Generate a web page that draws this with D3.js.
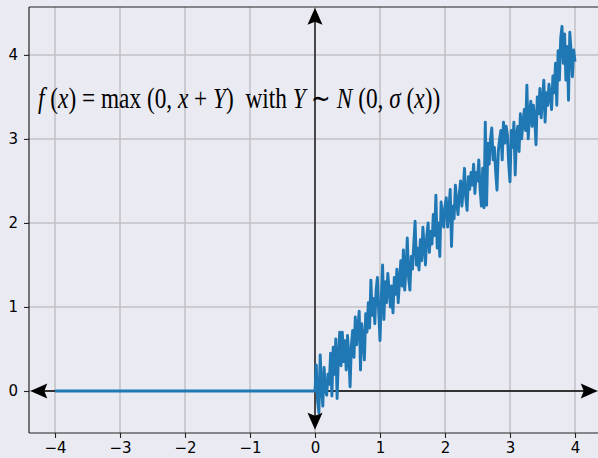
<!DOCTYPE html>
<html lang="en">
<head>
<meta charset="utf-8">
<script src="https://cdn.jsdelivr.net/npm/d3@7"></script>
<style>
  body{margin:0;background:#eaeaf2;}
  svg{display:block;}
</style>
</head>
<body>
<svg></svg>
<script>
  var xTicks = [-4, -3, -2, -1, 0, 1, 2, 3, 4];
  var yTicks = [0, 1, 2, 3, 4];

  // flat part, x <= 0
  var flatX = [-4, 0];
  var flatY = [0, 0];

  // noisy part, x = 0.02 .. 4.00 in steps of 0.02
  var noisyStart = 0.02, noisyStep = 0.02;
  var noisyY = [
    0.31, -0.12, -0.26, 0.43, 0.05, -0.18, 0.28, 0.02, -0.05, 0.20,
    0.08, 0.45, -0.06, 0.52, 0.20, 0.62, -0.09, 0.40, 0.70, 0.30,
    0.70, 0.35, 0.60, 0.25, 0.66, 0.42, 0.05, 0.55, 0.72, 0.40,
    0.88, 0.55, 0.75, 0.95, 0.25, 0.80, 0.60, 0.37, 0.92, 0.70,
    1.05, 0.75, 1.32, 0.90, 1.10, 0.80, 1.20, 1.35, 0.95, 0.60,
    1.10, 1.50, 0.85, 1.30, 1.05, 1.40, 1.20, 1.00, 1.25, 0.93,
    1.35, 1.15, 1.45, 1.05, 1.30, 1.55, 1.25, 1.68, 1.20, 1.45,
    1.82, 1.35, 1.20, 1.60, 1.45, 1.75, 2.02, 1.50, 1.70, 1.44,
    1.80, 1.55, 1.95, 1.70, 1.50, 1.85, 2.00, 1.65, 1.90, 1.75,
    2.10, 1.85, 2.33, 1.70, 2.00, 1.60, 2.25, 2.10, 1.95, 2.20,
    2.30, 1.95, 2.15, 2.40, 1.72, 2.20, 2.05, 2.45, 2.25, 2.10,
    2.35, 2.50, 2.20, 2.40, 2.65, 2.30, 2.15, 2.55, 2.40, 2.60,
    2.45, 2.70, 2.35, 2.60, 2.50, 2.75, 2.40, 2.20, 2.65, 2.18,
    3.20, 2.21, 2.95, 2.70, 3.00, 3.13, 2.75, 2.90, 2.60, 2.39,
    2.85, 3.00, 3.10, 2.75, 3.20, 2.95, 3.15, 3.05, 2.70, 2.49,
    3.10, 2.90, 3.20, 2.57, 3.05, 3.15, 2.85, 3.30, 3.00, 3.20,
    3.35, 3.10, 3.64, 3.00, 3.30, 3.45, 3.15, 3.40, 3.25, 2.93,
    3.50, 3.30, 3.60, 3.25, 3.45, 3.70, 3.20, 3.55, 3.40, 3.65,
    3.50, 3.35, 3.75, 3.55, 3.90, 3.40, 4.05, 3.70, 4.20, 4.34,
    3.90, 4.25, 3.70, 4.10, 3.46, 4.27, 4.04, 3.74, 4.06, 3.92
  ];

  var svgwidth = 598, svgheight = 458;
  var margins = {top: 7, bottom: 25, left: 29, right: -3};

  var svg = d3.select('svg')
              .attr('width', svgwidth)
              .attr('height', svgheight);

  var x = d3.scaleLinear().domain([-4.4, 4.4])
            .range([margins.left, svgwidth - margins.right]);
  var y = d3.scaleLinear().domain([-0.5, 4.57])
            .range([svgheight - margins.bottom, margins.top]);

  var x0 = x.range()[0], x1 = x.range()[1];
  var y0 = y.range()[0], y1 = y.range()[1];

  svg.append('rect')
     .attr('x', x0).attr('y', y1)
     .attr('width', x1 - x0).attr('height', y0 - y1)
     .attr('fill', '#eaeaf2');

  // grid
  var grid = svg.append('g').attr('stroke', '#c0c0c4').attr('stroke-width', 1.5);
  grid.selectAll('.gx').data(xTicks).enter().append('line')
      .attr('x1', d => x(d)).attr('x2', d => x(d))
      .attr('y1', y0).attr('y2', y1);
  grid.selectAll('.gy').data(yTicks).enter().append('line')
      .attr('x1', x0).attr('x2', x1)
      .attr('y1', d => y(d)).attr('y2', d => y(d));

  // axes
  var fmt = d => (d < 0 ? '\u2212' + Math.abs(d) : '' + d);
  var xAxis = svg.append('g')
     .attr('transform', 'translate(0,' + y0 + ')')
     .call(d3.axisBottom(x).tickValues(xTicks).tickFormat(fmt).tickSizeOuter(0).tickSize(5).tickPadding(4));
  var yAxis = svg.append('g')
     .attr('transform', 'translate(' + x0 + ',0)')
     .call(d3.axisLeft(y).tickValues(yTicks).tickFormat(fmt).tickSizeOuter(0).tickSize(5).tickPadding(6));
  [xAxis, yAxis].forEach(function(a){
    a.attr('font-size', 15).attr('font-family', 'DejaVu Sans');
    a.selectAll('text').attr('fill', '#000');
    a.selectAll('line').attr('stroke', '#222').attr('stroke-width', 1.1);
    a.select('.domain').remove();
  });

  // spines (left, top, bottom)
  var spines = svg.append('g').attr('stroke', '#222').attr('stroke-width', 1.2).attr('fill', 'none');
  spines.append('line').attr('x1', x0).attr('x2', x0).attr('y1', y1).attr('y2', y0);
  spines.append('line').attr('x1', x0).attr('x2', x1).attr('y1', y1).attr('y2', y1);
  spines.append('line').attr('x1', x0).attr('x2', x1).attr('y1', y0).attr('y2', y0);

  // double arrows along the axes
  var arrows = svg.append('g');
  function arrowHead(tx, ty, ang){
    var L = 17, W = 7.5, N = 3;
    var p = [[0, 0], [-L, -W], [-L + N, 0], [-L, W]];
    arrows.append('path')
      .attr('d', 'M' + p.map(q => q.join(',')).join('L') + 'Z')
      .attr('transform', 'translate(' + tx + ',' + ty + ') rotate(' + ang + ')')
      .attr('fill', '#000');
  }
  var hx0 = x(-4.38), hx1 = x(4.35), vy0 = y(-0.46), vy1 = y(4.56);
  arrows.append('line').attr('x1', hx0 + 8).attr('x2', hx1 - 8)
        .attr('y1', y(0)).attr('y2', y(0)).attr('stroke', '#000').attr('stroke-width', 1.3);
  arrows.append('line').attr('x1', x(0)).attr('x2', x(0))
        .attr('y1', vy1 + 8).attr('y2', vy0 - 8).attr('stroke', '#000').attr('stroke-width', 1.3);
  arrowHead(hx0, y(0), 180);
  arrowHead(hx1, y(0), 0);
  arrowHead(x(0), vy1, -90);
  arrowHead(x(0), vy0, 90);

  // function line
  var pts = flatX.map((d, i) => [d, flatY[i]]);
  noisyY.forEach(function(v, i){ pts.push([noisyStart + i * noisyStep, v]); });
  var line = d3.line().x(d => x(d[0])).y(d => y(d[1]));
  svg.append('path').datum(pts)
     .attr('d', line)
     .attr('fill', 'none')
     .attr('stroke', '#1f77b4')
     .attr('stroke-width', 2.9)
     .attr('stroke-linejoin', 'round');

  // formula, sized to span the same width as in the picture
  var parts = [
    ['f', 1], [' (', 0], ['x', 1], [') = max (0, ', 0], ['x', 1], [' + ', 0], ['Y', 1],
    [')  with ', 0], ['Y', 1], [' \u223C ', 0], ['N', 1], [' (0, ', 0], ['\u03C3', 1],
    [' (', 0], ['x', 1], ['))', 0]
  ];
  var formula = svg.append('text')
     .attr('x', 0).attr('y', 0)
     .attr('font-family', 'Liberation Serif, serif')
     .attr('font-size', 28)
     .attr('fill', '#000')
     .attr('xml:space', 'preserve')
     .style('white-space', 'pre');
  parts.forEach(function(p){
    formula.append('tspan').text(p[0]).attr('font-style', p[1] ? 'italic' : 'normal');
  });
  var natural = formula.node().getComputedTextLength();
  var fs = 28 * 402 / natural;
  formula.attr('font-size', fs)
         .attr('transform', 'translate(38,108) scale(1,' + (29 / fs) + ')');
</script>
</body>
</html>
